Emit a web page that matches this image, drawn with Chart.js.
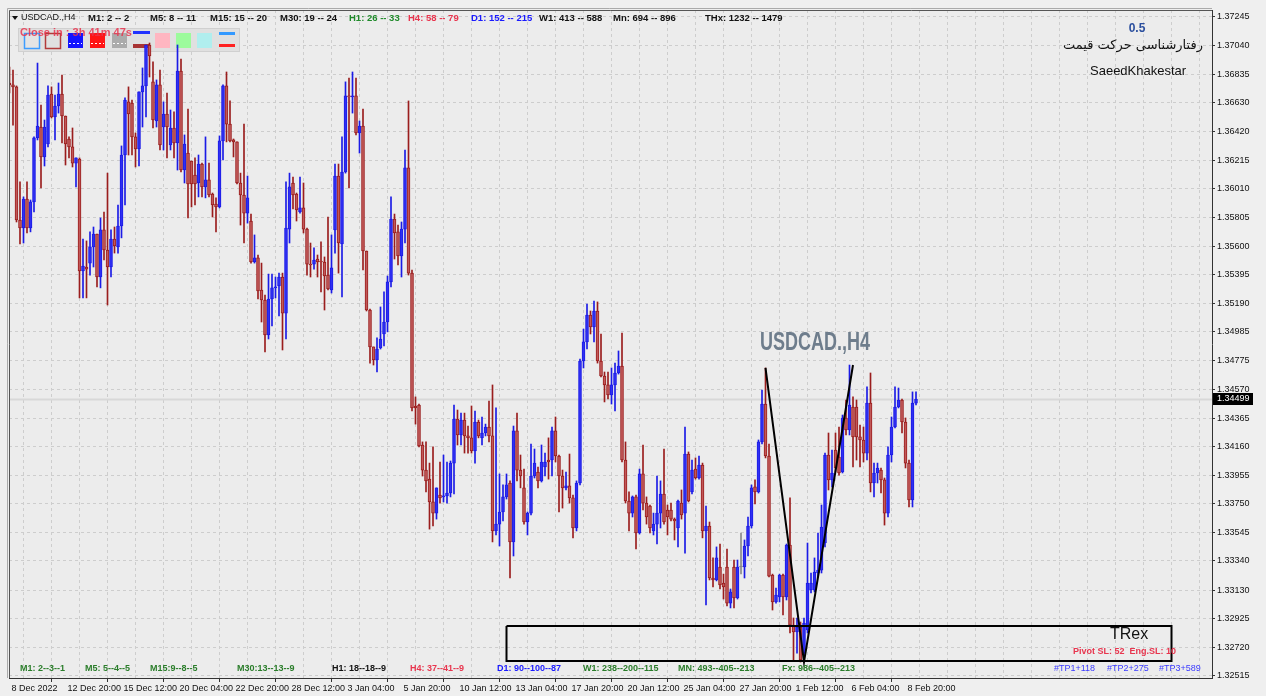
<!DOCTYPE html>
<html><head><meta charset="utf-8">
<script src="https://cdn.jsdelivr.net/npm/chart.js@4.4.1/dist/chart.umd.min.js"></script>
<style>html,body{margin:0;padding:0;background:#efefef;overflow:hidden}#wrap{width:1266px;height:696px;position:relative}</style>
</head><body><div id="wrap"><canvas id="c" width="1266" height="696"></canvas></div>
<script>
// ---- data (USDCAD H4) ----
const tickLabels = ['8 Dec 2022','12 Dec 20:00','15 Dec 12:00','20 Dec 04:00','22 Dec 20:00','28 Dec 12:00','3 Jan 04:00','5 Jan 20:00','10 Jan 12:00','13 Jan 04:00','17 Jan 20:00','20 Jan 12:00','25 Jan 04:00','27 Jan 20:00','1 Feb 12:00','6 Feb 04:00','8 Feb 20:00'];
const yTicks = [1.37245,1.37040,1.36835,1.36630,1.36420,1.36215,1.36010,1.35805,1.35600,1.35395,1.35190,1.34985,1.34775,1.34570,1.34365,1.34160,1.33955,1.33750,1.33545,1.33340,1.33130,1.32925,1.32720,1.32515];

const opens = [1.36771,1.36757,1.36743,1.35787,1.35730,1.35938,1.35730,1.35917,1.36377,1.36455,1.36240,1.36333,1.36692,1.36527,1.36606,1.36692,1.36534,1.36369,1.36312,1.36196,
1.36225,1.35421,1.35450,1.35478,1.35594,1.35687,1.35378,1.35716,1.35572,1.35450,1.35651,1.35594,1.35744,1.36254,1.36635,1.36627,1.36384,1.36297,1.36707,1.36750,
1.37044,1.36779,1.36498,1.36757,1.36455,1.36548,1.36326,1.36448,1.36340,1.36857,1.36146,1.36268,1.36211,1.36110,1.36053,1.36189,1.36025,1.36075,1.35974,1.35902,
1.35881,1.36355,1.36750,1.36476,1.36362,1.36348,1.36053,1.35967,1.35837,1.35780,1.35486,1.35515,1.35285,1.35213,1.34962,1.35220,1.35300,1.35314,1.35378,1.35119,
1.35722,1.36053,1.35974,1.35845,1.35874,1.35722,1.35471,1.35471,1.35507,1.35493,1.35486,1.35392,1.35285,1.35716,1.36103,1.35615,1.36132,1.36678,1.36671,1.36678,
1.36412,1.36462,1.35565,1.35141,1.34876,1.34782,1.34869,1.34969,1.35055,1.35343,1.35794,1.35702,1.35529,1.35722,1.36161,1.35406,1.34452,1.34459,1.34172,1.33992,
1.33927,1.33763,1.33683,1.33813,1.33799,1.33806,1.33827,1.34042,1.34358,1.34244,1.34351,1.34237,1.34223,1.34129,1.34337,1.34223,1.34258,1.34301,1.34237,1.33555,
1.33604,1.33691,1.33799,1.33899,1.33476,1.34273,1.33992,1.33864,1.33619,1.33683,1.33949,1.33978,1.33914,1.34014,1.34064,1.34064,1.34273,1.34093,1.33949,1.33864,
1.33878,1.33792,1.33576,1.33899,1.34775,1.34912,1.35105,1.35019,1.35134,1.34775,1.34667,1.34603,1.34531,1.34603,1.34689,1.34739,1.34064,1.33770,1.33683,1.33799,
1.33540,1.33964,1.33755,1.33734,1.33555,1.33604,1.33683,1.33820,1.33705,1.33705,1.33640,1.33576,1.33755,1.33683,1.34107,1.33835,1.33999,1.33935,1.34028,1.33555,
1.33590,1.33217,1.33203,1.33296,1.33181,1.33296,1.33037,1.33296,1.33074,1.33296,1.33296,1.33447,1.33590,1.33871,1.33835,1.34194,1.34466,1.34093,1.33238,1.33045,
1.33081,1.33238,1.33081,1.33454,1.32879,1.32830,1.32865,1.32678,1.32844,1.33131,1.33131,1.33253,1.33274,1.33469,1.34100,1.33921,1.34136,1.34086,1.33978,1.34366,
1.34280,1.34445,1.34445,1.34230,1.34208,1.34114,1.34473,1.33899,1.33971,1.33992,1.33921,1.33683,1.34100,1.34301,1.34445,1.34495,1.34337,1.34042,1.33777,1.34473];

const highs = [1.36886,1.36864,1.36750,1.36061,1.35953,1.36061,1.35931,1.36384,1.36914,1.36613,1.36505,1.36750,1.36743,1.36685,1.36771,1.36828,1.36534,1.36384,1.36448,1.36233,
1.36233,1.35651,1.35637,1.35702,1.35737,1.35687,1.35802,1.35845,1.36124,1.35716,1.35737,1.35895,1.36319,1.36664,1.36743,1.36649,1.36412,1.36707,1.36879,1.37044,
1.37058,1.36922,1.36793,1.36864,1.36635,1.36699,1.36577,1.36563,1.37044,1.36943,1.36398,1.36584,1.36211,1.36233,1.36254,1.36196,1.36384,1.36196,1.35981,1.35946,
1.36391,1.36757,1.36850,1.36642,1.36369,1.36348,1.36124,1.36476,1.36103,1.35830,1.35680,1.35536,1.35478,1.35249,1.35399,1.35399,1.35378,1.35406,1.35406,1.36061,
1.36124,1.36096,1.35981,1.36096,1.36053,1.35730,1.35622,1.35587,1.35536,1.35630,1.35522,1.35809,1.35680,1.36189,1.36189,1.36384,1.36779,1.36807,1.36850,1.36807,
1.36498,1.36584,1.35565,1.35148,1.34876,1.34941,1.35163,1.35271,1.35385,1.35953,1.35830,1.35751,1.35773,1.36290,1.36642,1.35428,1.34517,1.34466,1.34194,1.34194,
1.34042,1.34158,1.33864,1.34050,1.34100,1.34050,1.34057,1.34459,1.34423,1.34401,1.34401,1.34308,1.34452,1.34416,1.34351,1.34373,1.34322,1.34488,1.34603,1.34438,
1.33964,1.33885,1.33964,1.33914,1.34308,1.34401,1.34100,1.33999,1.33691,1.34179,1.34143,1.34014,1.34172,1.34114,1.34223,1.34301,1.34373,1.34100,1.33992,1.33978,
1.34107,1.33813,1.33914,1.34789,1.35004,1.35184,1.35134,1.35206,1.35199,1.34969,1.34696,1.34696,1.34725,1.34760,1.34847,1.34976,1.34194,1.33835,1.33806,1.33813,
1.33999,1.34172,1.33799,1.33741,1.33683,1.33949,1.33914,1.34143,1.33741,1.33755,1.33648,1.33777,1.33849,1.34301,1.34122,1.34064,1.34079,1.34093,1.34042,1.33734,
1.33619,1.33361,1.33440,1.33461,1.33245,1.33425,1.33138,1.33346,1.33346,1.33540,1.33490,1.33655,1.33885,1.33921,1.34208,1.34567,1.34725,1.34179,1.33245,1.33145,
1.33245,1.33245,1.33461,1.33792,1.32930,1.32930,1.32901,1.32930,1.33468,1.33253,1.33361,1.33540,1.33741,1.34114,1.34258,1.34136,1.34258,1.34301,1.34387,1.34495,
1.34746,1.34517,1.34495,1.34315,1.34301,1.34589,1.34689,1.34042,1.34042,1.34007,1.33935,1.34158,1.34373,1.34589,1.34581,1.34502,1.34366,1.34064,1.34553,1.34553];

const lows = [1.36699,1.36469,1.35773,1.35615,1.35622,1.35694,1.35702,1.35845,1.36362,1.36018,1.36175,1.36312,1.36520,1.36362,1.36555,1.36340,1.36182,1.36233,1.36168,1.36025,
1.35228,1.35228,1.35228,1.35392,1.35450,1.35307,1.35300,1.35500,1.35177,1.35378,1.35550,1.35550,1.35659,1.35895,1.36254,1.36254,1.36168,1.36175,1.36455,1.36527,
1.36814,1.36448,1.36455,1.36290,1.36290,1.36233,1.36290,1.36233,1.36146,1.36132,1.36053,1.35802,1.35881,1.35895,1.35953,1.35953,1.35946,1.35953,1.35809,1.35702,
1.35874,1.36218,1.36348,1.36348,1.36240,1.36046,1.35751,1.35622,1.35765,1.35478,1.35478,1.35220,1.35055,1.34840,1.34933,1.35026,1.35228,1.35098,1.34854,1.34933,
1.35622,1.35866,1.35780,1.35837,1.35694,1.35392,1.35378,1.35435,1.35378,1.35271,1.35141,1.35285,1.35263,1.35550,1.35406,1.35235,1.36124,1.36018,1.36555,1.36398,
1.36268,1.35428,1.35134,1.34760,1.34746,1.34696,1.34861,1.34883,1.34984,1.35307,1.35507,1.35464,1.35378,1.35622,1.35392,1.34416,1.34322,1.34158,1.33949,1.33835,
1.33568,1.33590,1.33640,1.33755,1.33763,1.33755,1.33799,1.33820,1.34172,1.34172,1.34114,1.34114,1.34114,1.34042,1.34223,1.34172,1.34237,1.34194,1.33476,1.33526,
1.33447,1.33626,1.33784,1.33217,1.33375,1.33914,1.33864,1.33604,1.33526,1.33669,1.33935,1.33864,1.33906,1.33949,1.33927,1.33949,1.34050,1.33691,1.33719,1.33849,
1.33755,1.33505,1.33555,1.33885,1.34725,1.34861,1.34969,1.34912,1.34760,1.34660,1.34481,1.34502,1.34466,1.34416,1.34681,1.34050,1.33755,1.33555,1.33655,1.33425,
1.33533,1.33705,1.33604,1.33540,1.33526,1.33461,1.33576,1.33604,1.33526,1.33626,1.33490,1.33440,1.33640,1.33396,1.33763,1.33820,1.33927,1.33927,1.33505,1.33023,
1.33203,1.33153,1.33196,1.33138,1.33066,1.33016,1.33002,1.33002,1.33066,1.33246,1.33217,1.33375,1.33576,1.33748,1.33827,1.34179,1.34079,1.33224,1.32987,1.33037,
1.33045,1.32951,1.33059,1.32822,1.32628,1.32678,1.32614,1.32643,1.32822,1.33109,1.33117,1.33224,1.33253,1.33440,1.33849,1.33871,1.33978,1.33956,1.33971,1.34244,
1.34244,1.34014,1.34064,1.34014,1.34050,1.34064,1.33835,1.33799,1.33899,1.33827,1.33597,1.33655,1.34050,1.34294,1.34438,1.34258,1.34007,1.33727,1.33727,1.34459];

const closes = [1.36757,1.36743,1.35787,1.35730,1.35938,1.35730,1.35917,1.36377,1.36462,1.36240,1.36455,1.36685,1.36527,1.36606,1.36692,1.36534,1.36333,1.36312,1.36196,1.36233,
1.35421,1.35457,1.35435,1.35594,1.35687,1.35378,1.35716,1.35572,1.35450,1.35651,1.35601,1.35744,1.36254,1.36649,1.36548,1.36384,1.36297,1.36707,1.36750,1.37044,
1.36965,1.36505,1.36757,1.36326,1.36548,1.36455,1.36448,1.36340,1.36857,1.36146,1.36333,1.36046,1.36046,1.36046,1.36189,1.36025,1.36075,1.35967,1.35895,1.35881,
1.36355,1.36750,1.36476,1.36355,1.36348,1.36053,1.35967,1.35837,1.35946,1.35486,1.35515,1.35278,1.35213,1.34962,1.35220,1.35300,1.35307,1.35378,1.35119,1.35730,
1.36025,1.35967,1.35859,1.35874,1.35722,1.35471,1.35464,1.35500,1.35486,1.35486,1.35385,1.35292,1.35443,1.36103,1.35622,1.36132,1.36678,1.36671,1.36678,1.36412,
1.36462,1.35565,1.35141,1.34876,1.34782,1.34861,1.34933,1.35055,1.35343,1.35794,1.35694,1.35529,1.35722,1.36161,1.35406,1.34438,1.34438,1.34165,1.33992,1.33914,
1.33763,1.33683,1.33864,1.33792,1.33806,1.33827,1.34042,1.34358,1.34244,1.34351,1.34237,1.34223,1.34129,1.34337,1.34237,1.34258,1.34301,1.34237,1.33555,1.33604,
1.33691,1.33799,1.33885,1.33476,1.34273,1.33992,1.33949,1.33619,1.33683,1.33949,1.34042,1.33914,1.34050,1.34050,1.34050,1.34273,1.34093,1.33949,1.33864,1.33878,
1.33792,1.33576,1.33899,1.34775,1.34912,1.35105,1.35019,1.35134,1.34775,1.34667,1.34603,1.34531,1.34603,1.34689,1.34739,1.34064,1.33770,1.33683,1.33799,1.33540,
1.33964,1.33755,1.33655,1.33576,1.33604,1.33683,1.33820,1.33619,1.33655,1.33640,1.33626,1.33770,1.33669,1.34107,1.33770,1.33992,1.33935,1.34028,1.33555,1.33590,
1.33217,1.33203,1.33361,1.33167,1.33153,1.33037,1.33117,1.33074,1.33296,1.33296,1.33447,1.33590,1.33864,1.33835,1.34194,1.34466,1.34093,1.33231,1.33045,1.33095,
1.33238,1.33081,1.33454,1.32879,1.32830,1.32865,1.32628,1.32894,1.33181,1.33181,1.33260,1.33274,1.33583,1.34100,1.33921,1.33971,1.34007,1.33971,1.34366,1.34280,
1.34459,1.34230,1.34230,1.34208,1.34114,1.34473,1.33899,1.33971,1.34007,1.33921,1.33683,1.34100,1.34301,1.34445,1.34495,1.34337,1.34042,1.33777,1.34473,1.34499];

// zigzag pattern drawn on the chart (bar index, price)
const zigIndex = [216, 227, 241];
const zigPrice = [1.34725, 1.32614, 1.34746];
// TRex zone (bar index range, price range)
const zoneIndex = [142, 332];
const zonePrice = [1.32872, 1.32621];

// ---- chart ----
const N = closes.length;
const X_MIN = -0.143, X_MAX = 343.57;
const Y_MIN = 1.32499, Y_MAX = 1.37295;
const idx = closes.map((_, i) => i);
const BULL = '#1b1be6', BEAR = '#9a1d1d', DOJI = '#8a8a8a';
const edgeCol = i => closes[i] > opens[i] ? BULL : (closes[i] < opens[i] ? BEAR : DOJI);
const fillCol = i => closes[i] > opens[i] ? '#2f2ff2' : (closes[i] < opens[i] ? 'rgba(200,100,100,0.85)' : DOJI);

const bgPlugin = {
  id: 'bg',
  beforeDraw(chart) {
    const c = chart.ctx, a = chart.chartArea;
    c.save();
    c.fillStyle = '#efefef'; c.fillRect(0, 0, chart.width, chart.height);
    c.fillStyle = '#ececec'; c.fillRect(a.left, a.top, a.right - a.left, a.bottom - a.top);
    c.restore();
  },
  beforeDatasetsDraw(chart) {
    const c = chart.ctx;
    c.save();
    c.fillStyle = '#e0e0e0'; c.fillRect(18, 28, 222, 24);
    c.strokeStyle = '#d0d0d0'; c.lineWidth = 1; c.strokeRect(18.5, 28.5, 221, 23);
    const y = 33, s = 15;
    c.fillStyle = '#e4e4e4'; c.fillRect(24, y, s, s);
    c.strokeStyle = '#3d9dff'; c.lineWidth = 1.5; c.strokeRect(24.5, y + 0.5, s, s);
    c.strokeStyle = '#b23a3a'; c.strokeRect(45.5, y + 0.5, s, s);
    const dashed = (x, col) => { c.fillStyle = col; c.fillRect(x, y, s, s); c.strokeStyle = '#fff'; c.lineWidth = 1; c.setLineDash([2, 2]); c.beginPath(); c.moveTo(x + 1, y + 10.5); c.lineTo(x + s - 1, y + 10.5); c.stroke(); c.setLineDash([]); };
    dashed(68, '#1414ff'); dashed(90, '#ff1515'); dashed(112, '#ababab');
    c.fillStyle = '#2233ff'; c.fillRect(133, y - 2, 17, 3);
    c.fillStyle = '#a83434'; c.fillRect(133, y + 11, 17, 4);
    c.fillStyle = '#ffb6c1'; c.fillRect(155, y, s, s);
    c.fillStyle = '#9cfb9c'; c.fillRect(176, y, s, s);
    c.fillStyle = '#b0eeee'; c.fillRect(197, y, s, s);
    c.fillStyle = '#3399ff'; c.fillRect(219, y - 1, 16, 3);
    c.fillStyle = '#ff2222'; c.fillRect(219, y + 11, 16, 3);
    c.restore();
  },
  afterDraw(chart) {
    const c = chart.ctx, a = chart.chartArea, ys = chart.scales.y;
    c.save();
    c.strokeStyle = '#555'; c.lineWidth = 1;
    c.beginPath(); c.moveTo(a.left + 0.5, a.bottom); c.lineTo(a.left + 0.5, a.top + 0.5); c.lineTo(a.right, a.top + 0.5); c.stroke();
    c.strokeStyle = '#aaa'; c.beginPath(); c.moveTo(a.left - 1.5, a.bottom); c.lineTo(a.left - 1.5, a.top - 1.5); c.lineTo(a.right, a.top - 1.5); c.stroke();

    c.textBaseline = 'middle';
    c.fillStyle = '#111';
    c.beginPath(); c.moveTo(12, 16); c.lineTo(18, 16); c.lineTo(15, 20); c.closePath(); c.fill();
    c.font = '9px "Liberation Sans", Arial, sans-serif';
    c.fillText('USDCAD.,H4', 21, 18);
    const head = [['M1: 2 -- 2', 88, '#111'], ['M5: 8 -- 11', 150, '#111'], ['M15: 15 -- 20', 210, '#111'], ['M30: 19 -- 24', 280, '#111'],
      ['H1: 26 -- 33', 349, '#1f8a2a'], ['H4: 58 -- 79', 408, '#e8354e'], ['D1: 152 -- 215', 471, '#1a1aff'], ['W1: 413 -- 588', 539, '#111'],
      ['Mn: 694 -- 896', 613, '#111'], ['THx: 1232 -- 1479', 705, '#111']];
    c.font = 'bold 9.5px "Liberation Sans", Arial, sans-serif';
    head.forEach(([t, x, col]) => { c.fillStyle = col; c.fillText(t, x, 18); });

    c.font = 'bold 11px "Liberation Sans", Arial, sans-serif';
    c.fillStyle = 'rgba(232,52,78,0.85)';
    c.fillText('Close in : 3h 41m 47s', 20, 33);

    c.textAlign = 'center';
    c.fillStyle = '#2b4f9e'; c.font = 'bold 12px "Liberation Sans", Arial, sans-serif';
    c.fillText('0.5', 1137, 29);
    c.textAlign = 'right';
    c.fillStyle = '#111'; c.font = '13px "DejaVu Sans", sans-serif';
    c.fillText('رفتارشناسی حرکت قیمت', 1203, 46);
    c.textAlign = 'left';
    c.font = '13px "Liberation Sans", Arial, sans-serif';
    c.fillText('SaeedKhakestar', 1090, 71);

    // symbol label in chart (condensed heavy)
    c.save();
    c.fillStyle = '#6e7d8c';
    c.font = 'bold 25px "Liberation Sans", Arial, sans-serif';
    const w = c.measureText('USDCAD.,H4').width;
    c.translate(760, 343); c.scale(110 / w, 1);
    c.fillText('USDCAD.,H4', 0, 0);
    c.restore();

    c.fillStyle = '#111'; c.font = '16px "Liberation Sans", Arial, sans-serif';
    c.fillText('TRex', 1110, 635);
    c.fillStyle = '#e8354e'; c.font = 'bold 9px "Liberation Sans", Arial, sans-serif';
    c.fillText('Pivot SL: 52  Eng.SL: 10', 1073, 652);

    const stat = [['M1: 2--3--1', 20, '#2a7d2a'], ['M5: 5--4--5', 85, '#2a7d2a'], ['M15:9--8--5', 150, '#2a7d2a'], ['M30:13--13--9', 237, '#2a7d2a'],
      ['H1: 18--18--9', 332, '#111'], ['H4: 37--41--9', 410, '#e8354e'], ['D1: 90--100--87', 497, '#1a1aff'], ['W1: 238--200--115', 583, '#2a7d2a'],
      ['MN: 493--405--213', 678, '#2a7d2a'], ['Fx: 986--405--213', 782, '#2a7d2a']];
    c.font = 'bold 9px "Liberation Sans", Arial, sans-serif';
    stat.forEach(([t, x, col]) => { c.fillStyle = col; c.fillText(t, x, 669); });
    c.font = '9px "Liberation Sans", Arial, sans-serif';
    c.fillStyle = '#3a3aff';
    [['#TP1+118', 1054], ['#TP2+275', 1107], ['#TP3+589', 1159]].forEach(([t, x]) => c.fillText(t, x, 669));

    const py = Math.round(ys.getPixelForValue(closes[N - 1]));
    c.fillStyle = '#000'; c.fillRect(a.right + 1, py - 6, 40, 12);
    c.fillStyle = '#fff'; c.font = '9px "Liberation Sans", Arial, sans-serif';
    c.textAlign = 'left';
    c.fillText(closes[N - 1].toFixed(5), a.right + 5, py);
    c.restore();
  }
};

new Chart(document.getElementById('c'), {
  data: {
    datasets: [
      { type: 'line', label: 'last', data: [{ x: X_MIN, y: closes[N - 1] }, { x: X_MAX, y: closes[N - 1] }],
        borderColor: '#d8d8d8', borderWidth: 2, pointRadius: 0, order: 6 },
      { type: 'bar', label: 'wicks', data: idx.map(i => ({ x: i, y: [lows[i], highs[i]] })),
        backgroundColor: idx.map(edgeCol), barThickness: 1, grouped: false, order: 4 },
      { type: 'bar', label: 'bodies', data: idx.map(i => ({ x: i, y: [opens[i], closes[i]] })),
        backgroundColor: idx.map(fillCol), borderColor: idx.map(edgeCol), borderWidth: 1, borderSkipped: false,
        barThickness: 3, minBarLength: 1, grouped: false, order: 3 },
      { type: 'line', label: 'zone', data: [
          { x: zoneIndex[0], y: zonePrice[0] }, { x: zoneIndex[1], y: zonePrice[0] }, { x: zoneIndex[1], y: zonePrice[1] },
          { x: zoneIndex[0], y: zonePrice[1] }, { x: zoneIndex[0], y: zonePrice[0] }],
        borderColor: '#000', borderWidth: 2, pointRadius: 0, fill: false, order: 2 },
      { type: 'line', label: 'zigzag', data: zigIndex.map((x, k) => ({ x, y: zigPrice[k] })),
        borderColor: '#000', borderWidth: 2, pointRadius: 0, order: 1 }
    ]
  },
  options: {
    responsive: false, animation: false, devicePixelRatio: 1,
    layout: { padding: { top: 10, left: 9, right: 0, bottom: 0 } },
    plugins: { legend: { display: false }, tooltip: { enabled: false } },
    scales: {
      x: {
        type: 'linear', min: X_MIN, max: X_MAX, offset: false,
        afterBuildTicks: s => { const t = []; for (let v = 0; v <= X_MAX; v += 8) t.push({ value: v }); s.ticks = t; },
        afterFit: s => { s.height = 18; },
        ticks: { autoSkip: false, maxRotation: 0, minRotation: 0, align: 'start', labelOffset: 2, padding: 1, color: '#111',
          font: { family: '"Liberation Sans", Arial, sans-serif', size: 9 },
          callback: v => (v % 16 === 0 && tickLabels[v / 16] !== undefined) ? tickLabels[v / 16] : '' },
        grid: { color: '#cdcdcd', lineWidth: 1, tickLength: 4,
          tickColor: ctx => (ctx.tick && ctx.tick.value % 16 === 0 && ctx.tick.value / 16 < tickLabels.length) ? '#333' : 'rgba(0,0,0,0)' },
        border: { display: true, color: '#333', width: 1, dash: [3, 3] }
      },
      y: {
        type: 'linear', position: 'right', min: Y_MIN, max: Y_MAX,
        afterBuildTicks: s => { s.ticks = yTicks.map(v => ({ value: v })); },
        afterFit: s => { s.width = 54; },
        ticks: { autoSkip: false, padding: 2, color: '#111', font: { family: '"Liberation Sans", Arial, sans-serif', size: 9 },
          callback: v => Number(v).toFixed(5) },
        grid: { color: '#cdcdcd', lineWidth: 1, tickLength: 3, tickColor: '#333' },
        border: { display: true, color: '#333', width: 1, dash: [3, 3] }
      }
    }
  },
  plugins: [bgPlugin]
});
</script></body></html>
